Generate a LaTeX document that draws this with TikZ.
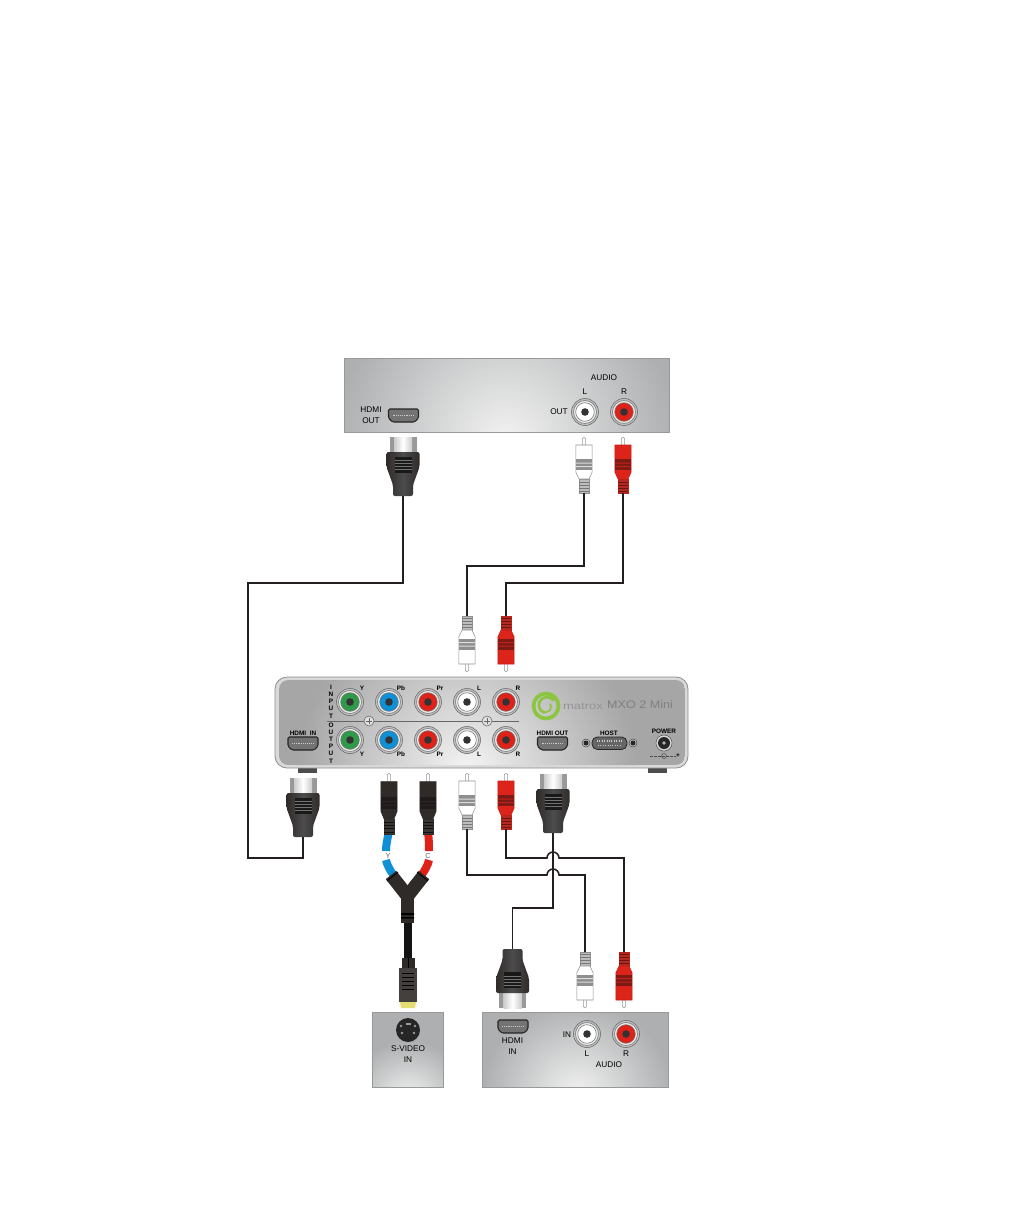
\documentclass[tikz,border=0pt]{standalone}
\usepackage{fontspec}
\setmainfont{Liberation Sans}
\usetikzlibrary{calc}
\definecolor{bodyK}{HTML}{2F2B29}\definecolor{bandK}{HTML}{1E1B1A}\definecolor{gripK}{HTML}{3A3634}\definecolor{edgeK}{HTML}{2F2B29}\definecolor{ribK}{HTML}{111111}
\definecolor{bodyW}{HTML}{FFFFFF}\definecolor{bandW}{HTML}{8E8E8E}\definecolor{gripW}{HTML}{BDBDBD}\definecolor{edgeW}{HTML}{909090}\definecolor{ribW}{HTML}{777777}
\definecolor{bodyR}{HTML}{DD241A}\definecolor{bandR}{HTML}{7E1A14}\definecolor{gripR}{HTML}{B32A22}\definecolor{edgeR}{HTML}{C02018}\definecolor{ribR}{HTML}{6B1510}
\definecolor{jG}{HTML}{2F9B4A}\definecolor{jB}{HTML}{0E8FD6}\definecolor{jR}{HTML}{DF2219}\definecolor{jW}{HTML}{FFFFFF}
\definecolor{cablecol}{HTML}{231F20}\definecolor{panelbase}{HTML}{ADAFB0}\definecolor{hd}{HTML}{2F2B29}\definecolor{lg}{HTML}{8CC540}
\tikzset{
 cable/.style={draw=cablecol,line width=1.15pt,line join=miter},
 lbl/.style={inner sep=0pt,font=\bfseries\fontsize{4.8}{5.6}\selectfont,text=black,align=center},
 plbl/.style={inner sep=0pt,font=\fontsize{6.2}{7.2}\selectfont,text=black,align=center},
 pics/rca/.style={code={
  \draw[fill=white,draw=black!40,line width=.4pt] (-1.7,8) -- (-1.7,1.5) arc (180:0:1.7 and -1.2) -- (1.7,8);
  \draw[fill=grip#1,draw=edge#1,line width=.3pt] (-4.8,42) -- (4.8,42) -- (4.8,56) -- (-4.8,56) -- cycle;
  \foreach \yy in {45,48,51,54} \draw[rib#1,line width=.5pt] (-4.8,\yy) -- (4.8,\yy);
  \draw[fill=body#1,draw=edge#1,line width=.4pt] (-8.2,8) -- (8.2,8) -- (8.2,35) -- (5,42) -- (-5,42) -- (-8.2,35) -- cycle;
  \fill[band#1] (-8.2,22) rectangle (8.2,33);
  \fill[body#1!70!band#1] (-8.2,25.5) rectangle (8.2,26.5) (-8.2,29) rectangle (8.2,30);
  \coordinate (-tail) at (0,56);
 }},
 pics/hdmi/.style={code={
  \fill[black!40] (-13.5,0) rectangle (13.5,17);
  \shade[left color=black!20,right color=black!20,middle color=white] (-9,0) rectangle (9,17);
  \shade[left color=hd,right color=hd,middle color=black!70,rounded corners=1.5pt] (-16.5,15) -- (16.5,15) -- (16.5,30) -- (10,48) -- (10,59) -- (-10,59) -- (-10,48) -- (-16.5,30) -- cycle;
  \fill[black!90] (-8.5,20) rectangle (8.5,36);
  \foreach \yy in {23,26,29,32} \draw[black!55,line width=.4pt] (-8.5,\yy) -- (8.5,\yy);
  \coordinate (-tail) at (0,59);
 }},
 pics/jack/.style={code={
  \draw[fill=black!25,draw=black!60,line width=.4pt] (0,0) circle (13.5);
  \draw[fill=black!8,draw=black!55,line width=.4pt] (0,0) circle (11.5);
  \draw[fill=j#1,draw=black!55,line width=.4pt] (0,0) circle (9.3);
  \fill[black!80] (0,0) circle (3.8);
 }},
 pics/port/.style={code={
  \draw[fill=black!55,draw=black!85,line width=.8pt,rounded corners=1pt] (-15,-6.5) -- (15,-6.5) -- (15,2.5) -- (11,6.5) -- (-11,6.5) -- (-15,2.5) -- cycle;
  \draw[white!80!black,line width=.9pt,dash pattern=on .7pt off .7pt] (-11,0) -- (11,0);
 }},
}
\newcommand{\panelbox}[7]{%
 \fill[panelbase] (#1,#2) rectangle (#3,#4);
 \begin{scope}
  \clip (#1,#2) rectangle (#3,#4);
  \shade[inner color=white!95!black,outer color=panelbase] (#5,#6) circle (#7);
 \end{scope}
 \draw[black!40,line width=.5pt] (#1,#2) rectangle (#3,#4);
}
\begin{document}
\begin{tikzpicture}[x=0.75pt,y=-0.75pt]
\useasboundingbox (0,0) rectangle (1009,1225);
\fill[white] (0,0) rectangle (1009,1225);

% top panel
\panelbox{344}{358}{669}{432}{506}{440}{170}
\pic at (403.5,415.5) {port};
\node[plbl] (tHdmi) at (371,415.5) {HDMI\\[1pt]OUT};
\pic at (585,412) {jack=W};
\pic at (624,412) {jack=R};
\node[plbl] (tAudio) at (604,378) {AUDIO};
\node[plbl] (tL) at (585,392) {L};
\node[plbl] (tR) at (624,392) {R};
\node[plbl] (tOut) at (559,412) {OUT};

% main box
\fill[black!70] (298,767) rectangle (317,773);
\fill[black!70] (648,767) rectangle (667,773);
\draw[fill=black!15,draw=black!45,line width=.6pt,rounded corners=9pt] (275,677) rectangle (688,768);
\begin{scope}
 \clip[rounded corners=7pt] (279,680) rectangle (685,765);
 \fill[black!35] (279,680) rectangle (685,765);
 \shade[inner color=white!96!black,outer color=black!35] (467,772) circle (170);
\end{scope}

\foreach \x/\c/\t [count=\i] in {350/G/Y,389/B/Pb,428/R/Pr,467/W/L,506/R/R}{
 \pic at (\x,702) {jack=\c};
 \pic at (\x,740) {jack=\c};
 \node[lbl] (ilab\i) at (\x+12,688) {\t};
 \node[lbl] (olab\i) at (\x+12,754) {\t};
}
\foreach \c [count=\i] in {I,N,P,U,T} \node[lbl] (inp\i) at (331,{687+(\i-1)*7.2}) {\c};
\foreach \c [count=\i] in {O,U,T,P,U,T} \node[lbl] (out\i) at (331,{725+(\i-1)*7.2}) {\c};
\draw[black!60,line width=.5pt] (327,721) -- (519,721);
\foreach \x in {369,487}{
 \draw[fill=black!12,draw=black!60,line width=.4pt] (\x,721) circle (5);
 \draw[black!60,line width=.4pt] (\x-3,721) -- (\x+3,721) (\x,718) -- (\x,724);
}
\pic at (303,743.5) {port};
\node[lbl] (mHdmiIn) at (303,733) {HDMI\ \ IN};
\pic at (552.5,743.5) {port};
\node[lbl] (mHdmiOut) at (552.5,733) {HDMI OUT};
\node[lbl] (mHost) at (609,733) {HOST};
\draw[fill=black!60,draw=black!85,line width=.6pt,rounded corners=4pt] (592,737) rectangle (627,749.5);
\draw[white!80!black,line width=.8pt,dash pattern=on .7pt off 1.1pt] (597,741) -- (622,741) (598,745.5) -- (621,745.5);
\foreach \x in {586,633}{
 \draw[fill=black!25,draw=black!70,line width=.4pt] (\x,743) circle (4);
 \fill[black!85] (\x,743) circle (2.5);
}
\node[lbl] (mPower) at (664,731) {POWER};
\draw[fill=black!15,draw=black!60,line width=.5pt] (664,743) circle (8);
\fill[black!85] (664,743) circle (6);
\fill[black!30] (664,743) circle (1.8);
\draw[black!70,line width=.35pt,dash pattern=on 2pt off 1pt] (650,756) -- (676,756);
\draw[black!70,line width=.35pt] (664,756) circle (2.5);
\node[lbl] (mPlus) at (678,755.5) {+};
% logo
\draw[lg,line width=2.8pt] (546,706) circle (12.5);
\draw[lg,line width=2pt,line cap=round] (553,700) arc (-40:-250:8);
\draw[lg,line width=1.3pt,line cap=round] (542,711) arc (130:-30:5.5);
\node[inner sep=0pt,text=black!42,font=\fontsize{7.5}{9}\selectfont,xscale=1.3,transform shape] (lMat) at (583,706) {matrox};
\node[inner sep=0pt,text=black!50,font=\fontsize{8.2}{9}\selectfont,xscale=1.15,transform shape] (lMxo) at (640,705) {MXO 2 Mini};

% S-video cable
\draw[draw=jB,line width=6pt] (389,832) .. controls (387,840) and (386,846) .. (386,851);
\draw[draw=jR,line width=6pt] (428,832) .. controls (429,840) and (429,846) .. (429,851);
\draw[draw=jB,line width=6pt] (386,860) .. controls (387,865) and (390,870) .. (394,876);
\draw[draw=jR,line width=6pt] (429,860) .. controls (428,865) and (425,870) .. (421,876);
\node[inner sep=0pt,font=\fontsize{5.5}{6}\selectfont,text=black!60] (yLab) at (388,855.5) {Y};
\node[inner sep=0pt,font=\fontsize{5.5}{6}\selectfont,text=black!60] (cLab) at (428,855.5) {C};
\coordinate (armL) at (391,875);
\coordinate (armR) at (424,875);
\coordinate (armC) at (407.5,896);
\draw[bodyK,line width=10pt] (armL) -- (armC);
\draw[bodyK,line width=10pt] (armR) -- (armC);
\draw[black,line width=.6pt] (387,881) -- (398,872) (428,881) -- (417,872);
\fill[bodyK] (401,893) rectangle (414,923);
\fill[black] (401,913) rectangle (414,915) (401,917) rectangle (414,918.5);
\fill[black!92] (404,923) rectangle (412,960);
\fill[bodyK] (402,958) rectangle (415,970);
\fill[black] (407.5,958) rectangle (408.5,968);
\fill[bodyK!90!white] (399,968) rectangle (417,1002);
\foreach \yy in {973,977,981,985,989} \draw[black,line width=.5pt] (402,\yy) -- (414,\yy);
\fill[white!75!black!50!yellow] (400,1002) -- (416,1002) -- (415,1008) -- (401,1008) -- cycle;

% plugs
\pic (pHdmiTop) at (403,437) {hdmi};
\pic (pWTop) at (584,437) {rca=W};
\pic (pRTop) at (623,437) {rca=R};
\pic[rotate=180] (pWIn) at (467,672) {rca=W};
\pic[rotate=180] (pRIn) at (506,672) {rca=R};
\pic (pHdmiIn) at (303,778) {hdmi};
\pic[yscale=1.09] (pK1) at (389,773) {rca=K};
\pic[yscale=1.09] (pK2) at (428,773) {rca=K};
\pic (pWOut) at (467,773) {rca=W};
\pic (pROut) at (506,773) {rca=R};
\pic (pHdmiOut) at (553,774) {hdmi};
\pic[rotate=180] (pHdmiBot) at (512.5,1008) {hdmi};
\pic[rotate=180] (pWBot) at (585,1008) {rca=W};
\pic[rotate=180] (pRBot) at (624,1008) {rca=R};

% connectors
\draw[cable] (pHdmiTop-tail) |- (248,583) |- (303,858) -- (pHdmiIn-tail);
\draw[cable] (pWTop-tail) |- (467,566) -- (pWIn-tail);
\draw[cable] (pRTop-tail) |- (506,583) -- (pRIn-tail);
\coordinate (hopA) at (547,858);
\coordinate (hopB) at (547,875);
\draw[cable] (pROut-tail) |- (hopA) arc (180:360:6) -| (pRBot-tail);
\draw[cable] (pWOut-tail) |- (hopB) arc (180:360:6) -| (pWBot-tail);
\draw[cable] (pHdmiOut-tail) |- (512.5,908) -- (pHdmiBot-tail);

% bottom panels
\panelbox{372}{1012}{443}{1087}{408}{1100}{60}
\fill[black!85] (408,1030) circle (12);
\foreach \a/\b in {401/1026,415/1026,402/1033,414/1033}\fill[black!40] (\a,\b) circle (1.4);
\fill[black!40] (405.5,1023) rectangle (410.5,1025);
\node[plbl] (sLab) at (408,1054.5) {S-VIDEO\\[1pt]IN};
\panelbox{482}{1012}{668}{1087}{577}{1095}{95}
\pic at (513,1026.5) {port};
\node[plbl] (bHdmi) at (512.5,1046.5) {HDMI\\[1pt]IN};
\pic at (587,1034) {jack=W};
\pic at (626,1034) {jack=R};
\node[plbl] (bIn) at (567,1035) {IN};
\node[plbl] (bL) at (587,1054) {L};
\node[plbl] (bR) at (626,1054) {R};
\node[plbl] (bAudio) at (609,1065) {AUDIO};
\end{tikzpicture}
\end{document}
